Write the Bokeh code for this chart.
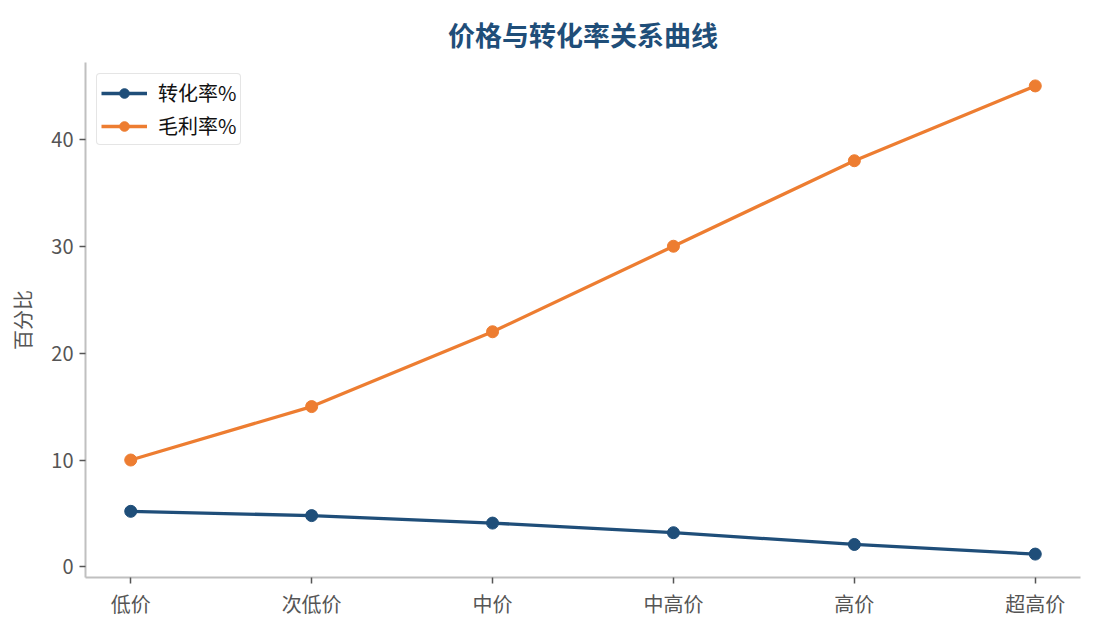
import numpy as np
from bokeh.plotting import figure
from bokeh.models import Range1d, FixedTicker, Legend, LegendItem
from bokeh.embed import file_html
from bokeh.resources import INLINE

# data
categories = ['低价', '次低价', '中价', '中高价', '高价', '超高价']
conversion = [5.2, 4.8, 4.1, 3.2, 2.1, 1.2]
margin = [10, 15, 22, 30, 38, 45]
y_ticks = [0, 10, 20, 30, 40]

FONT = "Noto Sans CJK SC"
BLUE = '#1f4e79'
ORANGE = '#ed7d31'

x = list(range(len(categories)))

p = figure(frame_width=995, frame_height=515, output_backend="svg", toolbar_location=None,
           x_range=Range1d(-0.25, len(categories) - 0.75), y_range=Range1d(-0.99, 47.19),
           min_border_left=85, min_border_right=5, min_border_top=62, min_border_bottom=10)

p.title.text = '价格与转化率关系曲线'
p.title.align = 'center'
p.title.vertical_align = 'top'
p.title.text_font = FONT
p.title.text_font_size = '27px'
p.title.text_font_style = 'bold'
p.title.text_color = BLUE
p.title.standoff = 14

l1 = p.line(x, conversion, line_color=BLUE, line_width=3.3)
s1 = p.scatter(x, conversion, size=12, fill_color=BLUE, line_color=BLUE)
l2 = p.line(x, margin, line_color=ORANGE, line_width=3.3)
s2 = p.scatter(x, margin, size=12, fill_color=ORANGE, line_color=ORANGE)

legend = Legend(items=[LegendItem(label='转化率%', renderers=[l1, s1]),
                       LegendItem(label='毛利率%', renderers=[l2, s2])],
                location='top_left')
legend.label_text_font = FONT
legend.label_text_font_size = '20px'
legend.label_text_color = '#111111'
legend.border_line_color = '#cccccc'
legend.border_line_width = 1.5
legend.border_radius = 4
legend.glyph_width = 46
legend.glyph_height = 24
legend.label_height = 24
legend.label_standoff = 11
legend.spacing = 4
legend.padding = 4
legend.margin = 11
p.add_layout(legend)

p.xaxis.ticker = FixedTicker(ticks=x)
p.xaxis.major_label_overrides = {i: c for i, c in enumerate(categories)}
p.yaxis.ticker = FixedTicker(ticks=y_ticks)
p.yaxis.axis_label = '百分比'

for ax in (p.xaxis, p.yaxis):
    ax.axis_line_color = '#c0c0c0'
    ax.axis_line_width = 2
    ax.major_tick_line_color = '#555555'
    ax.major_tick_line_width = 1.5
    ax.major_tick_out = 6
    ax.major_tick_in = 0
    ax.minor_tick_line_color = None
    ax.major_label_text_font = FONT
    ax.major_label_text_font_size = '20px'
    ax.major_label_text_color = '#555555'
    ax.axis_label_text_font = FONT
    ax.axis_label_text_font_size = '20px'
    ax.axis_label_text_font_style = 'normal'
    ax.axis_label_text_color = '#555555'

p.xaxis.major_label_standoff = 5
p.yaxis.major_label_standoff = 6
p.yaxis.axis_label_standoff = 11

p.xgrid.grid_line_color = None
p.ygrid.grid_line_color = None
p.outline_line_color = None

open("out.html", "w").write(file_html(p, INLINE))
